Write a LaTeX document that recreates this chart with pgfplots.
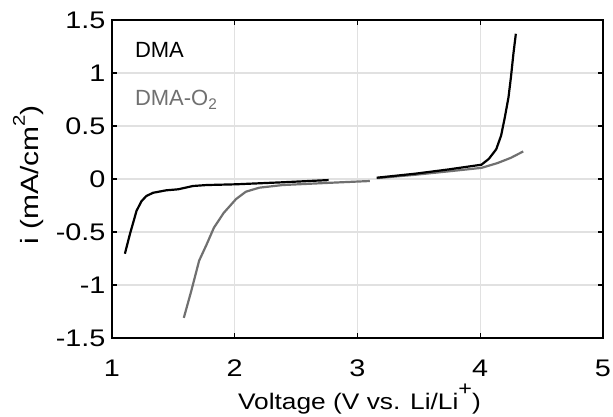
\documentclass[border=0pt]{standalone}
\usepackage{graphicx}
\usepackage{pgfplots}
\pgfplotsset{compat=1.18}
\usepackage{fontspec}
\setmainfont{Liberation Sans}
\definecolor{curvegray}{RGB}{112,112,112}
\definecolor{gridgray}{RGB}{225,225,225}
\newcommand{\tl}[1]{\scalebox{1.2}[1]{#1}}
\begin{document}
\begin{tikzpicture}
\useasboundingbox (-112pt,-79pt) rectangle (501pt,338pt);
\begin{axis}[
  scale only axis,
  width=491pt, height=318pt,
  xmin=1, xmax=5, ymin=-1.5, ymax=1.5,
  xtick={1,2,3,4,5},
  ytick={-1.5,-1,-0.5,0,0.5,1,1.5},
  yticklabels={\tl{-1.5},\tl{-1},\tl{-0.5},\tl{0},\tl{0.5},\tl{1},\tl{1.5}},
  xticklabels={\tl{1},\tl{2},\tl{3},\tl{4},\tl{5}},
  /pgf/number format/assume math mode=true,
  tick align=inside,
  major tick length=5pt,
  tick style={black, line width=1.2pt},
  axis line style={black, line width=1.6pt},
  grid=major,
  major grid style={gridgray, line width=1.3pt},
  ticklabel style={font=\fontsize{24}{27}\selectfont},
  xticklabel style={anchor=center, yshift=-30pt},
  yticklabel style={xshift=-3pt},
  xlabel={\scalebox{1.17}[1]{Voltage (V vs. Li/Li\raisebox{13.6pt}{\fontsize{20}{20}\selectfont +})}},
  ylabel={\scalebox{1.2}[1]{i (mA/cm\raisebox{14pt}{\fontsize{17}{17}\selectfont 2})}},
  xlabel style={font=\fontsize{22.5}{26}\selectfont, at={(axis description cs:0.504,-0.2233)}, anchor=base},
  ylabel style={font=\fontsize{25}{28}\selectfont, at={(axis description cs:-0.1487,0.5126)}, anchor=base, rotate=0},
  clip=false,
]
\addplot[curvegray, line width=2.2pt] coordinates {
(1.585,-1.31) (1.645,-1.06) (1.71,-0.77) (1.77,-0.62) (1.83,-0.46) (1.91,-0.32)
(2.01,-0.19) (2.09,-0.12) (2.20,-0.082) (2.39,-0.057) (2.79,-0.035) (3.10,-0.019)
};
\addplot[curvegray, line width=2.2pt] coordinates {
(3.16,0.008) (3.47,0.04) (3.74,0.072) (4.01,0.105) (4.14,0.15) (4.25,0.20) (4.35,0.26)
};
\addplot[black, line width=2.2pt] coordinates {
(1.105,-0.705) (1.146,-0.52) (1.20,-0.30) (1.24,-0.21) (1.28,-0.16) (1.335,-0.13)
(1.44,-0.107) (1.54,-0.097) (1.66,-0.066) (1.77,-0.057) (2.01,-0.05) (2.39,-0.031) (2.765,-0.01)
};
\addplot[black, line width=2.2pt] coordinates {
(3.156,0.012) (3.47,0.05) (3.74,0.09) (4.01,0.135) (4.07,0.19) (4.13,0.28) (4.17,0.41)
(4.20,0.58) (4.23,0.77) (4.25,0.96) (4.27,1.18) (4.29,1.37)
};
\node[anchor=base west, inner sep=0pt, font=\fontsize{22}{26}\selectfont] at (axis cs:1.186,1.144) {DMA};
\node[anchor=base west, inner sep=0pt, text=curvegray, font=\fontsize{22}{26}\selectfont] at (axis cs:1.186,0.689) {DMA-O\textsubscript{2}};
\end{axis}
\end{tikzpicture}
\end{document}
